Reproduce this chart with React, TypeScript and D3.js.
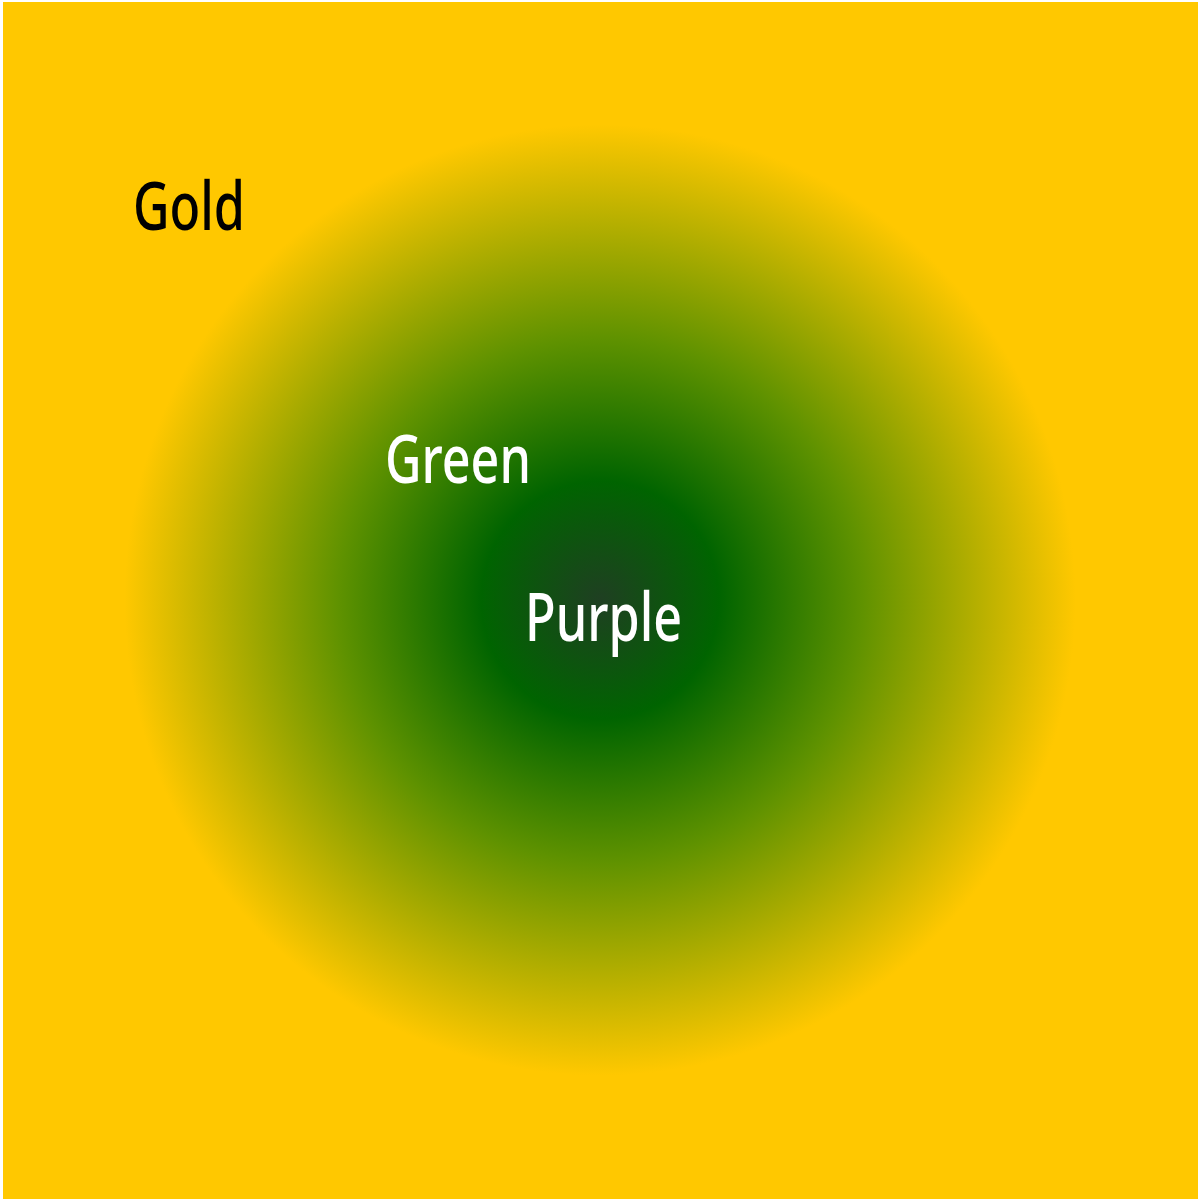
import React, { useEffect, useRef } from "react";
import * as d3 from "d3";

const stopOffsets = [0, 0.25, 0.55, 1];
const stopColors = ["#1f3f22", "#006400", "#5f9200", "#ffc800"];
const labelNames = ["Gold", "Green", "Purple"];
const labelX = [44.3, 128.3, 175];
const labelY = [76.7, 161, 213.5];
const labelFill = ["#000000", "#ffffff", "#ffffff"];

const W = 1200;
const H = 1201;

export default function App() {
  const ref = useRef<SVGSVGElement | null>(null);

  useEffect(() => {
    const svg = d3.select(ref.current);
    svg.selectAll("*").remove();
    const sx = d3.scaleLinear().domain([0, 400]).range([0, 1200]);
    const sy = d3.scaleLinear().domain([0, 400]).range([0, 1200]);

    const defs = svg.append("defs");
    const grad = defs
      .append("radialGradient")
      .attr("id", "rg")
      .attr("gradientUnits", "userSpaceOnUse")
      .attr("cx", sx(200))
      .attr("cy", sy(200))
      .attr("r", sx(158.5));
    grad
      .selectAll("stop")
      .data(stopOffsets)
      .enter()
      .append("stop")
      .attr("offset", (d) => d)
      .attr("stop-color", (_d, i) => stopColors[i]);

    svg.append("rect").attr("width", W).attr("height", H).attr("fill", "#ffffff");
    svg
      .append("rect")
      .attr("x", 3)
      .attr("y", 2)
      .attr("width", W - 5)
      .attr("height", H - 4)
      .attr("fill", "url(#rg)");

    const g = svg.append("g");
    labelNames.forEach((name, i) => {
      g.append("text")
        .attr("transform", `translate(${sx(labelX[i])},${sy(labelY[i])}) scale(0.74,1)`)
        .attr("font-family", "'Noto Sans', 'Open Sans', sans-serif")
        .attr("font-size", 68)
        .attr("font-weight", 500)
        .attr("fill", labelFill[i])
        .text(name);
    });
  }, []);

  return (
    <svg
      ref={ref}
      width={W}
      height={H}
      style={{ position: "absolute", left: 0, top: 0, display: "block" }}
    />
  );
}
